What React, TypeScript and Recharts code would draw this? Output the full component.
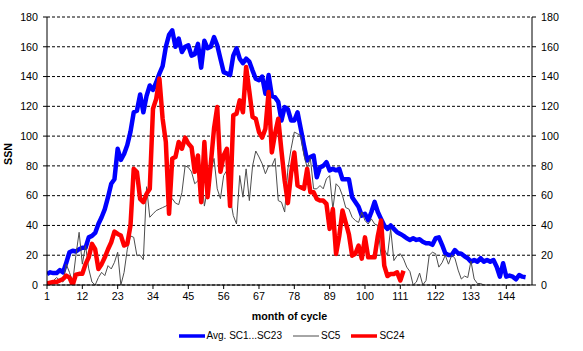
import React from 'react';
import { LineChart, Line, XAxis, YAxis, CartesianGrid, Legend, Label } from 'recharts';

// monthly sunspot numbers, month 1 = first month of the cycle
const avgSC1to23 = [
  7.4, 8.5, 8, 8, 10, 8.5, 15, 22, 23, 22.5, 24, 25, 25, 32, 33, 35, 41, 45.5, 51, 59,
  68, 71, 91.5, 84, 88, 94, 103, 116, 117, 128, 116, 127, 134, 131, 136, 142, 147, 160, 168, 171,
  160, 165.5, 156.5, 160, 161, 154, 155, 162, 146, 164, 159, 160, 166.5, 161, 152, 143, 142, 141, 154, 159,
  152, 149, 152, 150, 144, 138.5, 137.5, 140, 128.5, 141, 127, 126, 123, 110.5, 119.5, 118, 110.5, 110.5, 116, 105,
  93.7, 83.6, 86, 87, 72.4, 79, 80, 82.5, 77, 78, 77, 78, 71, 71, 71, 59, 55.8, 52.5, 46.6, 47.8,
  43.5, 49, 55.8, 49, 44.4, 40, 37.7, 40, 37.7, 35.4, 34.3, 33, 31.4, 30.3, 31.4, 30.3, 30.7, 29, 28, 28,
  27, 31.4, 32, 27, 21.3, 20.2, 20.2, 23.5, 21.3, 21, 19.3, 18, 15.7, 16.8, 15.7, 18, 15.7, 16.8, 15.7, 16.8,
  12.3, 5.6, 14.6, 5.6, 6.3, 5.6, 3.8, 6.7, 5.6, 5.2,
];

const sc5 = [
  0, 2, 3, 5, 3, 2, 14, 8.5, 2, 20, 35.4, 14, 26.5, 10.8, 2, 0, 5, 8.5, 6.3, 13,
  10.8, 15.2, 22, 0, 8.5, 24, 33, 32, 19.7, 20, 17, 66, 45.5, 47.8, 50, 51, 52, 53, 55, 58,
  55, 54, 62, 80, 79, 76, 68, 70, 76, 53, 64.6, 76, 85, 64.6, 58, 73.5, 77, 59, 46.6, 41,
  73.5, 59, 78, 56.7, 80, 90, 86, 81.4, 74.7, 80, 80, 85, 56.7, 55.6, 49, 78, 91.5, 102.7, 101.6, 100.4,
  87, 79, 85, 64.6, 64.6, 66.8, 64.6, 71.3, 73.5, 51, 68, 65.7, 60, 52, 51, 45.5, 43.3, 42, 49, 43.3,
  41, 44.4, 41, 40, 19.7, 24, 19.7, 37.7, 16.4, 19.7, 21, 17.5, 12, 9, 0, 2, 8, 0, 3, 20,
  22, 21, 12, 15, 20, 14, 20, 18, 10, 4, 6, 5, 16, 4, 1, 1, 0,
];

const sc24 = [
  1, 1.5, 2, 2, 3, 4, 6.3, 5, 0, 7, 7.5, 7.5, 14, 18.6, 27.6, 24, 10.8, 14, 18.6, 24,
  28.7, 35.9, 34.3, 33.2, 26.5, 27.6, 40, 78, 75.8, 57.8, 55.6, 61.2, 64.6, 118.4, 125, 138.6, 111.7, 96, 47.8, 85,
  86, 96, 91.5, 99, 95, 92.6, 76, 87, 55.6, 96, 59, 81.4, 105, 119.5, 76, 87, 91.5, 53, 114, 115,
  124, 116, 146.4, 130, 112.8, 111.7, 102.7, 99, 105, 129.6, 89, 101.6, 111.7, 90, 70, 55, 75, 89, 66.8, 65.7,
  64.6, 78, 62.3, 62.3, 57.8, 56.7, 56.7, 54.5, 37.7, 51, 20.9, 33, 50, 42, 34, 19.7, 21, 26.5, 17.7, 32,
  18.6, 18.6, 18.6, 33, 43.3, 13, 6, 7.4, 7.4, 8.5, 3, 9.6,
];

const xTicks = [1, 12, 23, 34, 45, 56, 67, 78, 89, 100, 111, 122, 133, 144];
const yTicks = [0, 20, 40, 60, 80, 100, 120, 140, 160, 180];

const legendItems = [
  { label: 'Avg. SC1...SC23', color: '#0000FF', width: 3.5 },
  { label: 'SC5', color: '#4d4d4d', width: 1 },
  { label: 'SC24', color: '#FF0000', width: 3.5 },
];

const data = avgSC1to23.map((v, i) => ({
  month: i + 1,
  avg: v,
  sc5: i < sc5.length ? sc5[i] : null,
  sc24: i < sc24.length ? sc24[i] : null,
}));

const FONT = '"Liberation Sans", Arial, sans-serif';
const tickStyle = { fill: '#000', fontSize: 10.7, fontFamily: FONT };

const ChartLegend = () => (
  <div style={{ display: 'flex', justifyContent: 'center', alignItems: 'center', fontFamily: FONT, fontSize: 10, color: '#000' }}>
    {legendItems.map((it, i) => (
      <div key={it.label} style={{ display: 'flex', alignItems: 'center', marginLeft: i === 0 ? 0 : 11 }}>
        <svg width={26} height={8}>
          <line x1={0} y1={4} x2={26} y2={4} stroke={it.color} strokeWidth={it.width} />
        </svg>
        <span style={{ marginLeft: 2 }}>{it.label}</span>
      </div>
    ))}
  </div>
);

export default function App() {
  return (
    <div style={{ position: 'absolute', left: 0, top: 0 }}>
      <LineChart width={583} height={351} data={data} margin={{ top: 17, right: 0, bottom: 0, left: 0 }}>
        <CartesianGrid yAxisId="left" vertical={false} stroke="#000" strokeDasharray="3 2" />
        <XAxis
          dataKey="month"
          type="number"
          domain={[1, 152]}
          ticks={xTicks}
          interval={0}
          height={66}
          tickSize={4}
          tickMargin={3}
          tick={tickStyle}
          stroke="#000"
          allowDataOverflow
        >
          <Label value="month of cycle" position="insideBottom" offset={31}
            style={{ fontWeight: 'bold', fontSize: 10.7, fontFamily: FONT, fill: '#000' }} />
        </XAxis>
        <YAxis
          yAxisId="left"
          domain={[0, 180]}
          ticks={yTicks}
          width={47}
          tickSize={4}
          tickMargin={5}
          tick={tickStyle}
          stroke="#000"
          allowDataOverflow
        >
          <Label
            content={() => (
              <text x={11.5} y={154} transform="rotate(-90 11.5 154)" textAnchor="middle"
                style={{ fontWeight: 'bold', fontSize: 10.7, fontFamily: FONT, fill: '#000' }}>
                SSN
              </text>
            )}
          />
        </YAxis>
        <YAxis
          yAxisId="right"
          orientation="right"
          domain={[0, 180]}
          ticks={yTicks}
          width={51}
          tickSize={4}
          tickMargin={5}
          tick={tickStyle}
          stroke="#000"
          allowDataOverflow
        />
        <Line yAxisId="left" type="linear" dataKey="avg" name="Avg. SC1...SC23" stroke="#0000FF" strokeWidth={4.5}
          strokeLinejoin="round" dot={false} isAnimationActive={false} />
        <Line yAxisId="left" type="linear" dataKey="sc5" name="SC5" stroke="#4d4d4d" strokeWidth={1}
          dot={false} isAnimationActive={false} />
        <Line yAxisId="left" type="linear" dataKey="sc24" name="SC24" stroke="#FF0000" strokeWidth={4.5}
          strokeLinejoin="round" dot={false} isAnimationActive={false} />
        <Legend
          layout="horizontal"
          verticalAlign="middle"
          align="center"
          content={() => <ChartLegend />}
          wrapperStyle={{ position: 'absolute', left: 0, top: 330, width: 583 }}
        />
      </LineChart>
    </div>
  );
}
